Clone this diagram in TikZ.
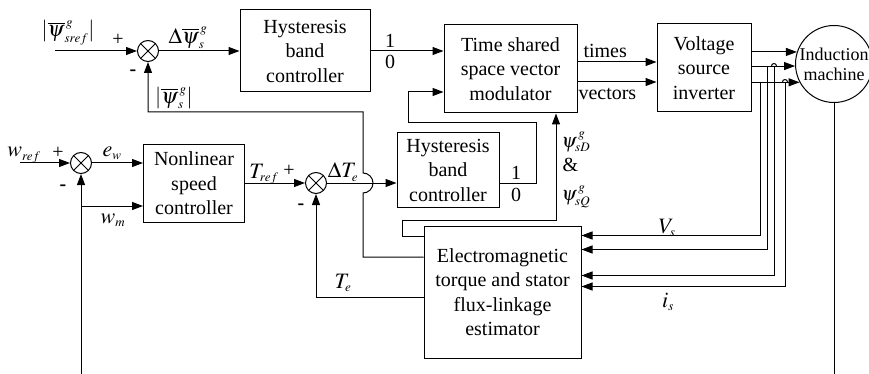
\documentclass[tikz,border=0pt]{standalone}
\usepackage{mathptmx}
\usepackage{fontspec}
\setmainfont{Liberation Serif}
\usetikzlibrary{arrows.meta}
\DeclareMathSizes{22}{22}{13}{10}
\DeclareMathSizes{20}{20}{13}{10}

\tikzset{
  blk/.style={draw, align=center, inner sep=0pt, font=\fontsize{20}{24.5}\selectfont},
  sumnode/.style={draw, circle, minimum size=21pt, inner sep=0pt,
    path picture={\draw (path picture bounding box.north west) -- (path picture bounding box.south east)
                        (path picture bounding box.south west) -- (path picture bounding box.north east);}},
  arr/.style={-{Triangle[length=11pt,width=8pt]}},
  lbl/.style={inner sep=0pt, font=\fontsize{20}{24}\selectfont},
  mlbl/.style={inner sep=0pt, font=\fontsize{22}{26}\selectfont},
}

\begin{document}
\begin{tikzpicture}[x=1pt, y=-1pt, line width=1pt]
    \useasboundingbox (0,0) rectangle (869,374);

    % Blocks
    \node[sumnode] (sum1) at (148,51) {};
    \node[blk, minimum width=130pt, minimum height=82pt] (hyst1) at (305,51) {Hysteresis\\band\\controller};
    \node[blk, minimum width=133pt, minimum height=88pt] (mod) at (510.5,69) {Time shared\\space vector\\modulator};
    \node[blk, minimum width=94pt, minimum height=88pt] (inv) at (704,68) {Voltage\\source\\inverter};
    \node[draw, circle, minimum size=77pt, inner sep=0pt, align=center,
          font=\fontsize{18}{20}\selectfont] (mach) at (834,64) {Induction\\machine};
    \node[sumnode] (sum2) at (81,163) {};
    \node[blk, minimum width=101pt, minimum height=78pt] (ctrl) at (194,183.5) {Nonlinear\\speed\\controller};
    \node[sumnode] (sum3) at (316,183) {};
    \node[blk, minimum width=102pt, minimum height=74pt] (hyst2) at (448,170) {Hysteresis\\band\\controller};
    \node[blk, minimum width=157pt, minimum height=132pt] (est) at (502.5,292) {Electromagnetic\\torque and stator\\flux-linkage\\estimator};

    % Free ends, taps and the hop
    \coordinate (psiin) at (55,51);
    \coordinate (win) at (20,163);
    \coordinate (wmin) at (81,374);
    \coordinate (wmj) at (81,206);
    \coordinate (machout) at (834,374);
    \coordinate (hop) at (363,183);
    \coordinate (tapA) at (760,82);
    \coordinate (tapB) at (767,66);
    \coordinate (tapC) at (774,66);
    \coordinate (tapD) at (785,82);

    % Flux loop
    \draw[arr] (psiin) -- (sum1);
    \draw[arr] (sum1) -- (hyst1);
    \draw[arr] (hyst1.east) -- (hyst1.east -| mod.west);
    \node[mlbl] (psiref) at (68,33) {$|\overline{\psi}^{\,g}_{sref}|$};
    \node[lbl] (p1) at (118,40) {+};
    \node[lbl] (m1) at (133,73) {\textbf{-}};
    \node[mlbl] (dpsi) at (188,38) {$\Delta\overline{\psi}^{\,g}_{s}$};
    \node[mlbl] (psis) at (174,98) {$|\overline{\psi}^{\,g}_{s}|$};
    \node[lbl] (h1one) at (390,41) {1};
    \node[lbl] (h1zero) at (390,62) {0};

    % Modulator, inverter, machine
    \draw[arr] ([yshift=7pt]mod.east) -- ([yshift=7pt]mod.east -| inv.west);
    \draw[arr] ([yshift=-13pt]mod.east) -- ([yshift=-13pt]mod.east -| inv.west);
    \node[lbl, anchor=west] (times) at (583,51) {times};
    \node[lbl, anchor=west] (vectors) at (578,94) {vectors};
    \draw[arr] (inv.east |- mach.162) -- (mach.162);
    \draw[arr] (inv.east |- mach.183) -- (mach.183);
    \draw[arr] (inv.east |- mach.208) -- (mach.208);
    \draw (mach) -- (machout);

    % Measured voltages and currents
    \draw[arr] (tapA) |- ([yshift=-10pt]est.north east);
    \draw[arr] (tapB) |- ([yshift=-24pt]est.north east);
    \draw[arr] (tapC) |- ([yshift=-50pt]est.north east);
    \draw[arr] (tapD) |- ([yshift=-61pt]est.north east);
    \draw (tapC) ++(-2.5,0) arc[start angle=180, end angle=0, radius=2.5pt];
    \draw (tapD) ++(-2.5,0) arc[start angle=180, end angle=0, radius=2.5pt];
    \node[mlbl] (vs) at (667,228) {$V_s$};
    \node[mlbl] (is) at (668,302) {$i_s$};

    % Speed loop
    \draw[arr] (win) -- (sum2);
    \draw[arr] (sum2) -- (sum2 -| ctrl.west);
    \draw[arr] (wmin) -- (sum2);
    \draw[arr] (wmj) -- (wmj -| ctrl.west);
    \node[mlbl] (wref) at (24,155) {$w_{ref}$};
    \node[lbl] (p2) at (58,153) {+};
    \node[lbl] (m2) at (63,188) {\textbf{-}};
    \node[mlbl] (ew) at (112,153) {$e_w$};
    \node[mlbl] (wm) at (113,220) {$w_m$};

    % Torque loop
    \draw[arr] (ctrl.east |- sum3) -- (sum3);
    \draw[arr] (sum3) -- (sum3 -| hyst2.west);
    \draw[arr] (hyst2.east |- sum3) -- ++(37,0) -- ++(0,-60)
        -| ([xshift=-35pt,yshift=-23pt]mod.west) -- ([yshift=-23pt]mod.west);
    \node[mlbl] (tref) at (264,174) {$T_{ref}$};
    \node[lbl] (p3) at (289,171) {+};
    \node[lbl] (m3) at (301,207) {\textbf{-}};
    \node[mlbl] (dte) at (343,172) {$\Delta T_e$};
    \node[lbl] (h2one) at (516,173) {1};
    \node[lbl] (h2zero) at (516,195) {0};

    % Estimator outputs
    \draw[arr] ([yshift=35pt]est.west) -| ([yshift=-10pt]hop)
        arc[start angle=-90, end angle=90, radius=10pt] -- ++(0,-61) -| (sum1);
    \draw[arr] ([yshift=-5pt]est.west) -| (sum3);
    \draw[arr] ([yshift=56pt]est.west) -- ++(-21,0) -- ++(0,-16) -| ([xshift=45.5pt]mod.south);
    \node[mlbl] (te) at (343,283) {$T_e$};
    \node[lbl, anchor=west] (psid) at (561,142) {$\psi^{\,g}_{sD}$};
    \node[lbl, anchor=west] (amp) at (562,165) {\&};
    \node[lbl, anchor=west] (psiq) at (561,197) {$\psi^{\,g}_{sQ}$};
\end{tikzpicture}
\end{document}
